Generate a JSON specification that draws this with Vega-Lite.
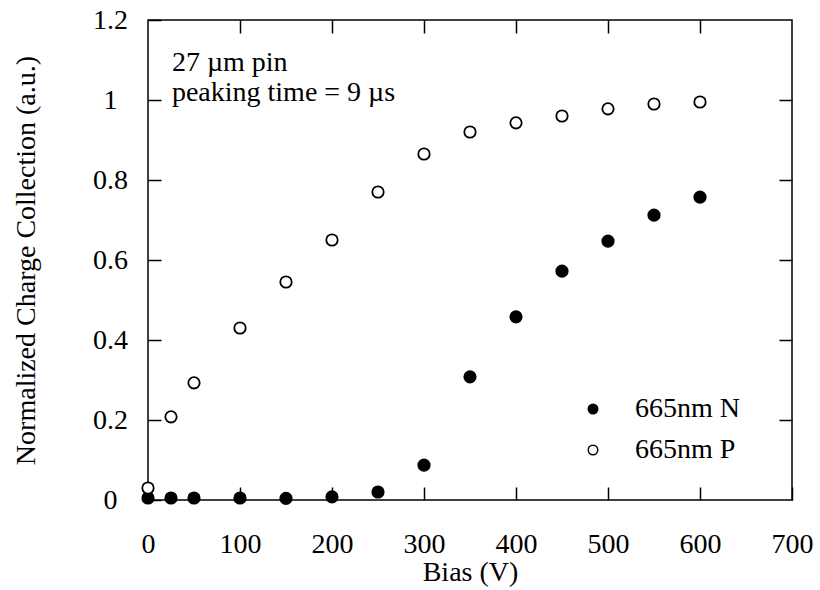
{
  "$schema": "https://vega.github.io/schema/vega-lite/v6.json",
  "width": 644,
  "height": 480,
  "padding": {"left": 148, "top": 20, "right": 28, "bottom": 90},
  "autosize": "none",
  "background": "white",
  "config": {
    "view": {"stroke": "black", "strokeWidth": 1.5},
    "font": "Liberation Serif",
    "axis": {
      "domain": false,
      "grid": false,
      "labelFlush": false,
      "labelOverlap": false,
      "tickColor": "black",
      "tickWidth": 1.5,
      "tickSize": -13,
      "labelFont": "Liberation Serif",
      "labelFontSize": 28,
      "labelColor": "black",
      "titleFont": "Liberation Serif",
      "titleFontSize": 28,
      "titleFontWeight": "normal",
      "titleColor": "black"
    }
  },
  "data": {
    "values": [
      {"bias": 0, "charge": 0.005, "series": "665nm N"},
      {"bias": 25, "charge": 0.005, "series": "665nm N"},
      {"bias": 50, "charge": 0.005, "series": "665nm N"},
      {"bias": 100, "charge": 0.005, "series": "665nm N"},
      {"bias": 150, "charge": 0.004, "series": "665nm N"},
      {"bias": 200, "charge": 0.008, "series": "665nm N"},
      {"bias": 250, "charge": 0.02, "series": "665nm N"},
      {"bias": 300, "charge": 0.087, "series": "665nm N"},
      {"bias": 350, "charge": 0.308, "series": "665nm N"},
      {"bias": 400, "charge": 0.458, "series": "665nm N"},
      {"bias": 450, "charge": 0.572, "series": "665nm N"},
      {"bias": 500, "charge": 0.647, "series": "665nm N"},
      {"bias": 550, "charge": 0.712, "series": "665nm N"},
      {"bias": 600, "charge": 0.757, "series": "665nm N"},
      {"bias": 0, "charge": 0.03, "series": "665nm P"},
      {"bias": 25, "charge": 0.208, "series": "665nm P"},
      {"bias": 50, "charge": 0.293, "series": "665nm P"},
      {"bias": 100, "charge": 0.43, "series": "665nm P"},
      {"bias": 150, "charge": 0.545, "series": "665nm P"},
      {"bias": 200, "charge": 0.65, "series": "665nm P"},
      {"bias": 250, "charge": 0.77, "series": "665nm P"},
      {"bias": 300, "charge": 0.865, "series": "665nm P"},
      {"bias": 350, "charge": 0.92, "series": "665nm P"},
      {"bias": 400, "charge": 0.943, "series": "665nm P"},
      {"bias": 450, "charge": 0.96, "series": "665nm P"},
      {"bias": 500, "charge": 0.978, "series": "665nm P"},
      {"bias": 550, "charge": 0.99, "series": "665nm P"},
      {"bias": 600, "charge": 0.995, "series": "665nm P"}
    ]
  },
  "layer": [
    {
      "mark": {"type": "point", "shape": "circle", "size": 130, "stroke": "black", "strokeWidth": 1.8, "opacity": 1},
      "encoding": {
        "x": {
          "field": "bias", "type": "quantitative",
          "scale": {"domain": [0, 700], "nice": false, "zero": false},
          "axis": {"orient": "bottom", "values": [0, 100, 200, 300, 400, 500, 600, 700], "labelPadding": 43, "title": "Bias (V)", "titlePadding": 0}
        },
        "y": {
          "field": "charge", "type": "quantitative",
          "scale": {"domain": [0, 1.2], "nice": false, "zero": false},
          "axis": {"orient": "left", "values": [0, 0.2, 0.4, 0.6, 0.8, 1, 1.2], "format": "~g", "labelAlign": "center", "labelPadding": 51, "title": "Normalized Charge Collection (a.u.)", "titlePadding": 52}
        },
        "fill": {
          "field": "series", "type": "nominal",
          "scale": {"domain": ["665nm N", "665nm P"], "range": ["black", "white"]},
          "legend": {
            "orient": "none", "legendX": 431, "legendY": 375, "title": null,
            "padding": 0, "symbolType": "circle", "symbolSize": 90,
            "symbolStrokeColor": "black", "symbolStrokeWidth": 1.5,
            "labelFont": "Liberation Serif", "labelFontSize": 28, "labelColor": "black",
            "labelOffset": 28, "rowPadding": 13, "labelLimit": 300
          }
        }
      }
    },
    {
      "mark": {"type": "point", "opacity": 0},
      "encoding": {
        "x": {"field": "bias", "type": "quantitative", "axis": {"orient": "top", "values": [100, 200, 300, 400, 500, 600], "labels": false, "title": null}},
        "y": {"field": "charge", "type": "quantitative", "axis": {"orient": "right", "values": [0.2, 0.4, 0.6, 0.8, 1], "labels": false, "title": null}}
      }
    },
    {
      "data": {"values": [{"note": "27 µm pin"}]},
      "mark": {"type": "text", "align": "left", "baseline": "alphabetic", "fontSize": 28, "font": "Liberation Serif", "color": "black", "lineHeight": 30, "text": ["27 µm pin", "peaking time = 9 µs"]},
      "encoding": {
        "x": {"datum": 26, "type": "quantitative", "axis": null},
        "y": {"datum": 1.0725, "type": "quantitative", "axis": null}
      }
    }
  ],
  "resolve": {"axis": {"x": "independent", "y": "independent"}}
}
